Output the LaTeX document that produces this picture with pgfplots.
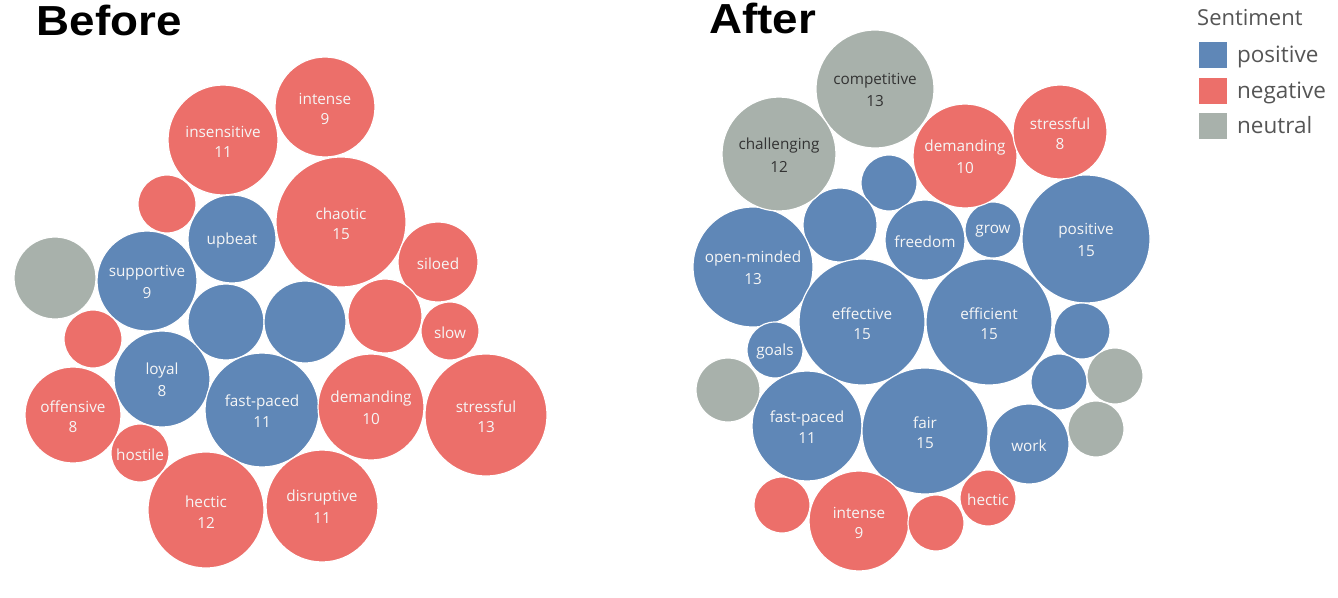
\documentclass[border=0pt]{standalone}
\usepackage{pgfplots}
\pgfplotsset{compat=1.18}
\usepackage{pgfplotstable}
\usepackage{fontspec}
\setmainfont{Open Sans}
\newfontfamily\titlefont{Liberation Sans}[FakeStretch=1.09]
\definecolor{posc}{HTML}{5F87B7}
\definecolor{negc}{HTML}{EC6F6A}
\definecolor{neuc}{HTML}{A8B1AB}
\definecolor{lblc}{HTML}{F6F6F6}
\definecolor{darklbl}{HTML}{333333}
\definecolor{legtext}{HTML}{555555}

% ---------- Before ----------
\pgfplotstableread{
x y r
232 239 44
147 281 50
226 322 38
305 322 41
162 379 48
262 410 57
}\bpos
\pgfplotstableread{
x y r
223 140 55
325 107 50
341 222 65
167 204 29
438 262 40
93 339 29
385 316 37
450 331 29
73 415 48
140 453 29
371 407 53
486 415 61
206 510 58
322 506 56
}\bneg
\pgfplotstableread{
x y r
55 278 41
}\bneu
\pgfplotstableread{
x y w n
223 140 insensitive 11
325 107 intense 9
341 222 chaotic 15
147 281 supportive 9
162 379 loyal 8
73 415 offensive 8
262 410 fast-paced 11
371 407 demanding 10
486 415 stressful 13
206 510 hectic 12
322 506 disruptive 11
}\btwo
\pgfplotstableread{
x y w
232 239 upbeat
438 262 siloed
450 331 slow
140 453 hostile
}\bone

% ---------- After ----------
\pgfplotstableread{
x y r
889 183 28
840 225 37
925 240 40
993 230 28
1086 239 64
753 267 60
862 322 63
989 322 63
775 350 28
1082 331 28
807 426 55
925 431 63
1059 382 28
1029 444 40
}\apos
\pgfplotstableread{
x y r
965 156 52
1060 132 47
782 505 28
859 521 50
936 523 28
988 498 28
}\aneg
\pgfplotstableread{
x y r
875 89 59
779 154 57
728 390 32
1115 376 28
1096 429 28
}\aneu
\pgfplotstableread{
x y w n
1060 132 stressful 8
965 156 demanding 10
1086 239 positive 15
753 267 open-minded 13
862 322 effective 15
989 322 efficient 15
807 426 fast-paced 11
925 431 fair 15
859 521 intense 9
}\atwo
\pgfplotstableread{
x y w n
875 89 competitive 13
779 154 challenging 12
}\atwoneu
\pgfplotstableread{
x y w
925 240 freedom
993 230 grow
775 350 goals
1029 444 work
988 498 hectic
}\aone

\pgfplotsset{
  bubble/.style={scatter, only marks, mark=*, line width=1.2pt,
    point meta=explicit, point meta min=0, point meta max=1000,
    scatter/use mapped color={draw=white, fill=#1},
    visualization depends on={\thisrow{r}\as\rad},
    scatter/@pre marker code/.append style={/tikz/mark size=\rad}},
  lbl/.style 2 args={only marks, mark=none, point meta=explicit symbolic,
    nodes near coords={\pgfplotspointmeta},
    every node near coord/.append style={anchor=center, inner sep=0pt, yshift=#2,
      font=\fontsize{15.3}{20}\selectfont, text=#1}},
}

\begin{document}
\begin{tikzpicture}
\begin{axis}[
  x=1pt, y=1pt, y dir=reverse,
  xmin=0, xmax=1338, ymin=0, ymax=597,
  scale only axis, hide axis, clip=false,
  legend style={at={(0.8935,0.9330)}, anchor=north west, draw=none, fill=none,
    font=\fontsize{22.5}{26}\selectfont, text=legtext,
    nodes={inner sep=0pt}, row sep=10pt,
    /tikz/every odd column/.append style={column sep=11pt}},
  legend cell align=left,
]
\path (rel axis cs:0,0) rectangle (rel axis cs:1,1);

\addlegendimage{legend image code/.code={\fill[posc] (0pt,-12pt) rectangle (27pt,13pt);}}
\addlegendentry{positive}
\addlegendimage{legend image code/.code={\fill[negc] (0pt,-12pt) rectangle (27pt,13pt);}}
\addlegendentry{negative}
\addlegendimage{legend image code/.code={\fill[neuc] (0pt,-12pt) rectangle (27pt,13pt);}}
\addlegendentry{neutral}

\addplot[bubble=posc, forget plot] table[x=x, y=y, meta=r] {\bpos};
\addplot[bubble=negc, forget plot] table[x=x, y=y, meta=r] {\bneg};
\addplot[bubble=neuc, forget plot] table[x=x, y=y, meta=r] {\bneu};
\addplot[bubble=posc, forget plot] table[x=x, y=y, meta=r] {\apos};
\addplot[bubble=negc, forget plot] table[x=x, y=y, meta=r] {\aneg};
\addplot[bubble=neuc, forget plot] table[x=x, y=y, meta=r] {\aneu};

% two-line labels: word above, count below
\addplot[lbl={lblc}{8pt}, forget plot] table[x=x, y=y, meta=w] {\btwo};
\addplot[lbl={lblc}{-12.5pt}, forget plot] table[x=x, y=y, meta=n] {\btwo};
\addplot[lbl={lblc}{-1.5pt}, forget plot] table[x=x, y=y, meta=w] {\bone};
\addplot[lbl={lblc}{8pt}, forget plot] table[x=x, y=y, meta=w] {\atwo};
\addplot[lbl={lblc}{-12.5pt}, forget plot] table[x=x, y=y, meta=n] {\atwo};
\addplot[lbl={darklbl}{8pt}, forget plot] table[x=x, y=y, meta=w] {\atwoneu};
\addplot[lbl={darklbl}{-12.5pt}, forget plot] table[x=x, y=y, meta=n] {\atwoneu};
\addplot[lbl={lblc}{-1.5pt}, forget plot] table[x=x, y=y, meta=w] {\aone};

\node[anchor=base west, inner sep=0pt, font=\titlefont\bfseries\fontsize{42}{46}\selectfont] at (axis cs:36.5,35) {Before};
\node[anchor=base west, inner sep=0pt, font=\titlefont\bfseries\fontsize{42}{46}\selectfont] at (axis cs:709,33) {After};
\node[anchor=west, inner sep=0pt, text=legtext, font=\fontsize{22}{26}\selectfont] at (axis cs:1197,17.5) {Sentiment};
\end{axis}
\end{tikzpicture}
\end{document}
